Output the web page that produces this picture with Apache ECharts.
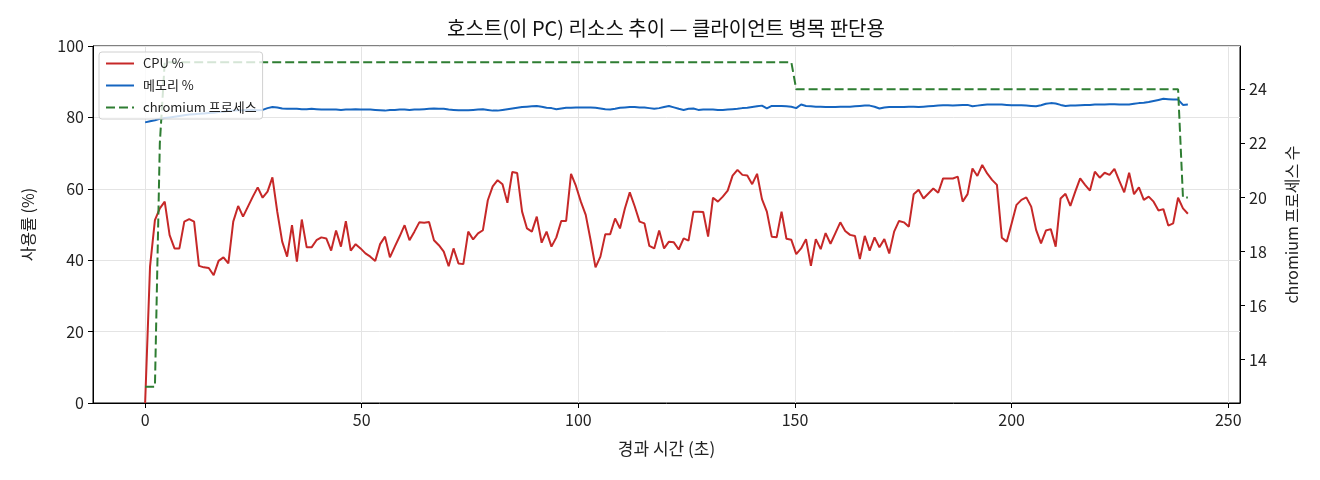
<!DOCTYPE html>
<html>
<head>
<meta charset="utf-8">
<title>호스트 리소스 추이</title>
<script src="https://cdn.jsdelivr.net/npm/echarts@6.0.0/dist/echarts.min.js"></script>
<style>
    html, body { margin: 0; padding: 0; background: #fff; }
    #host-resource { width: 1320px; height: 480px; }
</style>
</head>
<body>
<div id="host-resource"></div>
<script>
// 샘플링 간격 (초) - 그래프에서 읽은 값
var SAMPLE_SEC = 1.13;

var X_TICKS = [0, 50, 100, 150, 200, 250];
var RIGHT_TICKS = [14, 16, 18, 20, 22, 24];

var cpuPct = [
    0, 38.2, 51.2, 54.5, 56.4, 47.0, 43.3, 43.3, 50.8, 51.5,
    50.8, 38.4, 38.0, 37.8, 35.8, 39.8, 40.8, 39.1, 50.8, 55.2,
    52.2, 55.0, 57.8, 60.4, 57.5, 59.2, 63.2, 53.5, 45.2, 41.0,
    49.8, 39.6, 51.4, 43.6, 43.6, 45.6, 46.4, 46.1, 42.7, 48.3,
    43.8, 50.9, 42.7, 44.5, 43.3, 41.9, 41.0, 39.8, 44.5, 46.6,
    40.8, 43.8, 46.7, 49.8, 45.6, 48.0, 50.6, 50.5, 50.7, 45.6,
    44.2, 42.4, 38.3, 43.3, 39.1, 38.9, 48.0, 45.8, 47.5, 48.4,
    56.8, 60.7, 62.4, 61.3, 56.1, 64.7, 64.4, 53.6, 48.9, 48.0,
    52.2, 44.9, 48.0, 43.8, 46.4, 51.0, 51.0, 64.2, 60.8, 56.4,
    52.7, 45.6, 38.0, 41.0, 47.3, 47.3, 51.7, 48.9, 54.5, 59.0,
    55.1, 50.8, 50.3, 44.0, 43.3, 48.3, 43.3, 45.2, 45.0, 43.0,
    46.1, 45.5, 53.6, 53.6, 53.5, 46.6, 57.5, 56.4, 57.8, 59.5,
    63.7, 65.3, 63.9, 63.7, 61.3, 64.2, 57.1, 53.6, 46.6, 46.4,
    53.6, 46.0, 45.7, 41.7, 43.3, 45.9, 38.4, 45.9, 43.1, 47.6,
    44.6, 47.6, 50.6, 48.2, 47.1, 46.8, 40.3, 46.8, 42.7, 46.4,
    43.6, 45.9, 41.9, 48.0, 51.0, 50.6, 49.4, 58.5, 59.7, 57.3,
    58.7, 60.1, 58.9, 62.9, 62.9, 62.9, 63.4, 56.4, 58.5, 65.7,
    63.6, 66.7, 64.3, 62.5, 61.1, 46.3, 45.2, 50.3, 55.5, 56.9,
    57.6, 55.0, 48.5, 44.7, 48.3, 48.7, 43.8, 57.3, 58.6, 55.2,
    59.2, 62.9, 61.1, 59.5, 64.8, 63.1, 64.5, 63.9, 65.6, 62.2,
    59.0, 64.5, 58.5, 60.4, 56.9, 57.8, 56.4, 53.9, 54.3, 49.7,
    50.3, 57.5, 54.5, 53.0
];

var memPct = [
    78.6, 78.9, 79.2, 79.6, 79.8, 80.0, 80.2, 80.4, 80.6, 80.8,
    80.9, 81.0, 81.1, 81.2, 81.3, 81.5, 81.6, 81.8, 81.9, 82.0,
    82.0, 82.1, 82.1, 82.0, 82.1, 82.6, 82.9, 82.8, 82.5, 82.4,
    82.4, 82.4, 82.3, 82.3, 82.4, 82.3, 82.2, 82.2, 82.2, 82.2,
    82.1, 82.2, 82.2, 82.3, 82.2, 82.2, 82.2, 82.1, 82.0, 81.9,
    82.1, 82.1, 82.2, 82.2, 82.1, 82.2, 82.2, 82.3, 82.4, 82.5,
    82.4, 82.4, 82.2, 82.1, 82.0, 82.0, 82.0, 82.1, 82.2, 82.3,
    82.1, 81.9, 81.9, 82.1, 82.3, 82.5, 82.7, 82.9, 83.0, 83.1,
    83.2, 83.0, 82.7, 82.6, 82.3, 82.5, 82.7, 82.7, 82.8, 82.8,
    82.8, 82.8, 82.7, 82.5, 82.3, 82.2, 82.4, 82.7, 82.8, 82.9,
    82.9, 82.8, 82.8, 82.6, 82.4, 82.6, 82.9, 83.2, 82.8, 82.4,
    82.1, 82.4, 82.5, 82.1, 82.2, 82.2, 82.2, 82.1, 82.1, 82.2,
    82.3, 82.4, 82.6, 82.7, 82.9, 83.1, 83.3, 82.5, 83.2, 83.2,
    83.2, 83.1, 83.0, 82.6, 83.6, 83.2, 83.1, 83.0, 83.0, 82.9,
    82.9, 82.9, 83.0, 83.0, 83.0, 83.1, 83.2, 83.3, 83.3, 83.0,
    82.5, 82.8, 82.9, 82.9, 82.9, 82.9, 83.0, 83.0, 82.9, 83.0,
    83.1, 83.2, 83.3, 83.4, 83.4, 83.3, 83.4, 83.5, 83.5, 83.1,
    83.3, 83.5, 83.6, 83.6, 83.6, 83.6, 83.5, 83.4, 83.4, 83.4,
    83.3, 83.2, 83.1, 83.4, 83.8, 84.0, 83.9, 83.5, 83.2, 83.3,
    83.3, 83.4, 83.5, 83.5, 83.6, 83.6, 83.6, 83.7, 83.7, 83.6,
    83.6, 83.6, 83.8, 84.0, 84.1, 84.3, 84.6, 84.9, 85.2, 85.1,
    85.0, 85.0, 83.5, 83.6
];

var chromiumProcs = [
    13, 13, 13, 22, 25, 25, 25, 25, 25, 25, 25, 25, 25, 25, 25, 25, 25, 25, 25, 25,
    25, 25, 25, 25, 25, 25, 25, 25, 25, 25, 25, 25, 25, 25, 25, 25, 25, 25, 25, 25,
    25, 25, 25, 25, 25, 25, 25, 25, 25, 25, 25, 25, 25, 25, 25, 25, 25, 25, 25, 25,
    25, 25, 25, 25, 25, 25, 25, 25, 25, 25, 25, 25, 25, 25, 25, 25, 25, 25, 25, 25,
    25, 25, 25, 25, 25, 25, 25, 25, 25, 25, 25, 25, 25, 25, 25, 25, 25, 25, 25, 25,
    25, 25, 25, 25, 25, 25, 25, 25, 25, 25, 25, 25, 25, 25, 25, 25, 25, 25, 25, 25,
    25, 25, 25, 25, 25, 25, 25, 25, 25, 25, 25, 25, 25, 24, 24, 24, 24, 24, 24, 24,
    24, 24, 24, 24, 24, 24, 24, 24, 24, 24, 24, 24, 24, 24, 24, 24, 24, 24, 24, 24,
    24, 24, 24, 24, 24, 24, 24, 24, 24, 24, 24, 24, 24, 24, 24, 24, 24, 24, 24, 24,
    24, 24, 24, 24, 24, 24, 24, 24, 24, 24, 24, 24, 24, 24, 24, 24, 24, 24, 24, 24,
    24, 24, 24, 24, 24, 24, 24, 24, 24, 24, 24, 24, 20, 20
];

var FONT = "'Noto Sans CJK KR', 'Noto Sans', sans-serif";

/**
 * 샘플 번호 -> 경과 시간 쌍으로 변환
 */
function toPairs(values) {
    var pairs = [];
    for (var i = 0; i < values.length; i++) {
        pairs.push([+(i * SAMPLE_SEC).toFixed(2), values[i]]);
    }
    return pairs;
}

function lineSeries(name, values, color, yAxisIndex, dashed) {
    return {
        name: name,
        type: 'line',
        yAxisIndex: yAxisIndex,
        data: toPairs(values),
        showSymbol: false,
        symbol: 'none',
        lineStyle: {
            color: color,
            width: 2,
            type: dashed ? [9, 4] : 'solid'
        },
        itemStyle: { color: color }
    };
}

var chart = echarts.init(document.getElementById('host-resource'));

var tEnd = (cpuPct.length - 1) * SAMPLE_SEC;

var option = {
    animation: false,
    backgroundColor: '#fff',
    textStyle: { fontFamily: FONT },
    title: {
        text: '호스트(이 PC) 리소스 추이 — 클라이언트 병목 판단용',
        left: 666,
        top: 18,
        padding: 0,
        textAlign: 'center',
        textStyle: { fontFamily: FONT, fontSize: 20, fontWeight: 'normal', color: '#111' }
    },
    legend: {
        orient: 'vertical',
        left: 99,
        top: 52,
        padding: [5, 6, 5, 6],
        itemGap: 9,
        itemWidth: 28,
        itemHeight: 14,
        backgroundColor: 'rgba(255,255,255,0.8)',
        borderColor: '#d0d0d0',
        borderWidth: 1,
        borderRadius: 3,
        itemStyle: { opacity: 0 },
        textStyle: { fontFamily: FONT, fontSize: 13, color: '#222', padding: [0, 0, 0, 4] },
        data: ['CPU %', '메모리 %', 'chromium 프로세스']
    },
    grid: {
        left: 93,
        right: 80,
        top: 46,
        bottom: 77,
        show: true,
        borderColor: '#000',
        borderWidth: 1,
        backgroundColor: 'transparent'
    },
    xAxis: {
        type: 'value',
        min: -0.05 * tEnd,
        max: tEnd * 1.05,
        name: '경과 시간 (초)',
        nameLocation: 'middle',
        nameGap: 37,
        nameTextStyle: { fontFamily: FONT, fontSize: 17, color: '#222' },
        axisLine: { onZero: false, lineStyle: { color: '#000', width: 1 } },
        axisTick: { customValues: X_TICKS, length: 5, lineStyle: { color: '#000' } },
        axisLabel: { customValues: X_TICKS, margin: 9, fontSize: 16, color: '#222' },
        splitLine: { show: true, lineStyle: { color: '#e4e4e4', width: 1 } }
    },
    yAxis: [
        {
            type: 'value',
            min: 0,
            max: 100,
            interval: 20,
            name: '사용률 (%)',
            nameLocation: 'middle',
            nameGap: 57,
            nameTextStyle: { fontFamily: FONT, fontSize: 16, color: '#222' },
            axisLine: { show: true, onZero: false, lineStyle: { color: '#000', width: 1 } },
            axisTick: { show: true, length: 5, lineStyle: { color: '#000' } },
            axisLabel: { margin: 9, fontSize: 16, color: '#222' },
            splitLine: { show: true, lineStyle: { color: '#e4e4e4', width: 1 } }
        },
        {
            type: 'value',
            position: 'right',
            min: 12.4,
            max: 25.6,
            name: 'chromium 프로세스 수',
            nameLocation: 'middle',
            nameGap: 44,
            nameRotate: 90,
            nameTextStyle: { fontFamily: FONT, fontSize: 16, color: '#222' },
            axisLine: { show: true, onZero: false, lineStyle: { color: '#000', width: 1 } },
            axisTick: { show: true, customValues: RIGHT_TICKS, length: 5, lineStyle: { color: '#000' } },
            axisLabel: { customValues: RIGHT_TICKS, margin: 9, fontSize: 16, color: '#222' },
            splitLine: { show: false }
        }
    ],
    series: [
        lineSeries('CPU %', cpuPct, '#c62828', 0, false),
        lineSeries('메모리 %', memPct, '#1565c0', 0, false),
        lineSeries('chromium 프로세스', chromiumProcs, '#2e7d32', 1, true)
    ]
};

chart.setOption(option);
</script>
</body>
</html>
